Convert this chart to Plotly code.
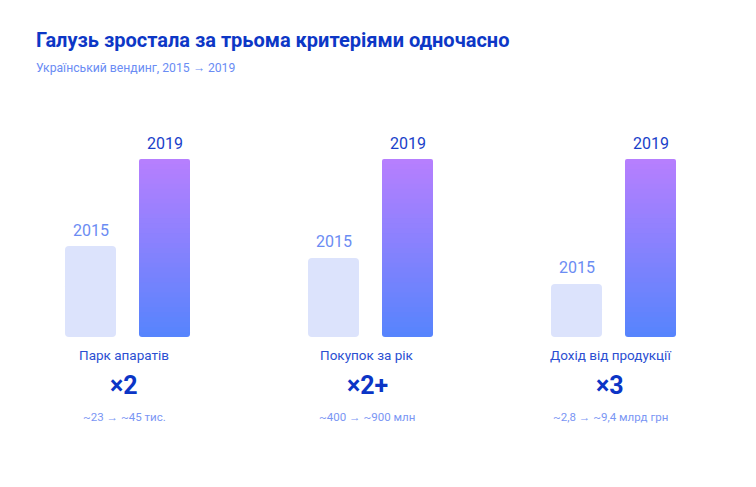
import plotly.graph_objects as go

# data
categories = ["Парк апаратів", "Покупок за рік", "Дохід від продукції"]
multipliers = ["×2", "×2+", "×3"]
range_labels = ["~23 → ~45 тис.", "~400 → ~900 млн", "~2,8 → ~9,4 млрд грн"]
years = ["2015", "2019"]
values_2015 = [23, 400, 2.8]
values_2019 = [45, 900, 9.4]

# each group is scaled to its 2019 value
h2015 = [a / b for a, b in zip(values_2015, values_2019)]
h2019 = [b / b for b in values_2019]

# geometry in pixels, converted to axis units (P px per category)
P = 243.0
W = 51 / P
OFF_15, OFF_19 = -63 / P, 11 / P
C_15, C_19 = OFF_15 + W / 2, OFF_19 + W / 2
FONT = "Roboto"

TOP = (183, 127, 254)
BOTTOM = (86, 132, 253)


def mix(t):
    c = [round(b + (a - b) * t) for a, b in zip(TOP, BOTTOM)]
    return "rgb(%d,%d,%d)" % tuple(c)


fig = go.Figure()

# 2015 bars: a bottom-rounded piece and a top-rounded piece
light = "#dce3fc"
fig.add_trace(go.Bar(x=categories, base=[h * 0.6 for h in h2015], y=[-h * 0.6 for h in h2015],
                     width=W, offset=OFF_15, marker=dict(color=light, cornerradius=4, line_width=0),
                     hoverinfo="skip", showlegend=False))
fig.add_trace(go.Bar(x=categories, base=[h * 0.3 for h in h2015], y=[h * 0.7 for h in h2015],
                     width=W, offset=OFF_15, marker=dict(color=light, cornerradius=4, line_width=0),
                     name=years[0], showlegend=False))

# 2019 bars: overlapping slices to fake a vertical gradient
N = 36
fig.add_trace(go.Bar(x=categories, base=[h * 1.5 / N for h in h2019], y=[-h * 1.5 / N for h in h2019],
                     width=W, offset=OFF_19, marker=dict(color=mix(0.5 / N), cornerradius=4, line_width=0),
                     hoverinfo="skip", showlegend=False))
xs, bases, ys, cols = [], [], [], []
for i in range(1, N - 1):
    for c, h in zip(categories, h2019):
        xs.append(c)
        bases.append(h * i / N)
        ys.append(h * 1.5 / N)
        cols.append(mix((i + 0.5) / N))
fig.add_trace(go.Bar(x=xs, base=bases, y=ys, width=W, offset=OFF_19,
                     marker=dict(color=cols, line_width=0), hoverinfo="skip", showlegend=False))
fig.add_trace(go.Bar(x=categories, base=[h * (N - 1) / N for h in h2019], y=[h / N for h in h2019],
                     width=W, offset=OFF_19, marker=dict(color=mix(1 - 0.5 / N), cornerradius=4, line_width=0),
                     name=years[1], showlegend=False))

# labels
for i in range(len(categories)):
    fig.add_annotation(x=i + C_15, y=h2015[i], yshift=16, text=years[0], showarrow=False,
                       font=dict(family=FONT, size=16, color="#6b8cf3"), yanchor="middle")
    fig.add_annotation(x=i + C_19, y=h2019[i], yshift=16, text=years[1], showarrow=False,
                       font=dict(family=FONT, size=16, color="#1a3fc9"), yanchor="middle")
    fig.add_annotation(x=i, y=0, yshift=-18, xshift=-4, text=categories[i], showarrow=False,
                       font=dict(family=FONT, size=13.5, color="#2b4fd2"), yanchor="middle")
    fig.add_annotation(x=i, y=0, yshift=-48, xshift=-4, text="<b>" + multipliers[i] + "</b>", showarrow=False,
                       font=dict(family=FONT, size=25, color="#0b35c6"), yanchor="middle")
    fig.add_annotation(x=i, y=0, yshift=-80, xshift=-4, text=range_labels[i], showarrow=False,
                       font=dict(family=FONT, size=11.5, color="#7a96f4"), yanchor="middle")

PLOT_W, PLOT_H = 736, 217
fig.add_annotation(xref="paper", yref="paper", x=26 / PLOT_W, y=(329 - 60) / PLOT_H, xanchor="left",
                   yanchor="middle", text="Український вендинг, 2015 → 2019", showarrow=False,
                   font=dict(family=FONT, size=12.2, color="#6a8cf4"))

x0 = -120 / P
fig.update_layout(
    width=756, height=487,
    title=dict(text="<b>Галузь зростала за трьома критеріями одночасно</b>",
               x=28 / 756, xref="container", xanchor="left",
               y=1 - 32 / 487, yref="container", yanchor="middle",
               font=dict(family=FONT, size=20, color="#0d37c6")),
    barmode="overlay",
    margin=dict(l=0, r=756 - PLOT_W, t=112, b=487 - 112 - PLOT_H, pad=0),
    plot_bgcolor="white", paper_bgcolor="white",
    xaxis=dict(type="category", range=[x0, x0 + PLOT_W / P], visible=False),
    yaxis=dict(range=[0, PLOT_H / 178], visible=False),
)

fig.write_html("out.html")
